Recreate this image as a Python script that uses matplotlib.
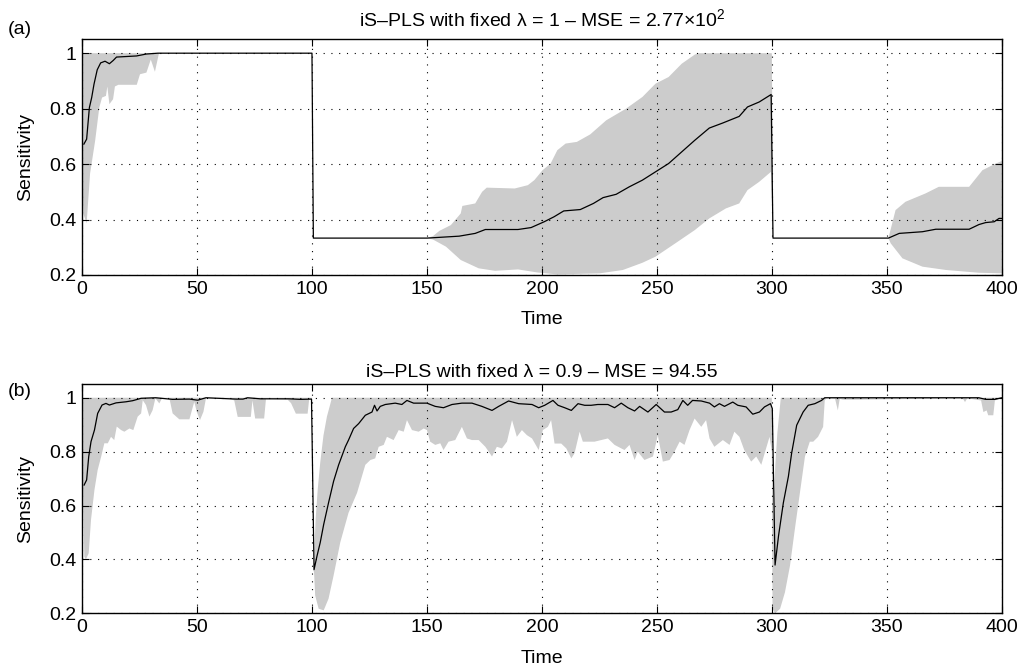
import numpy as np
import matplotlib
matplotlib.use("Agg")
import matplotlib.pyplot as plt

plt.rcParams['font.family'] = ['Liberation Sans', 'DejaVu Sans']
plt.rcParams['mathtext.fontset'] = 'custom'
plt.rcParams['mathtext.rm'] = 'Liberation Sans'

# ---- panel (a): fixed lambda = 1 ----
ta_line = [0.8, 2, 3.2, 4.2, 5.2, 6.6, 8.1, 10, 11.9, 13.6, 15, 23.7, 28, 33, 100,
           100.6, 150, 154, 164, 171, 175.4, 189.6, 195.3, 201, 205.3, 209.5, 216.7,
           222.4, 226.6, 232.3, 238, 243.7, 249.4, 255.1, 260.8, 266.5, 272.8, 278.6,
           285.8, 289.4, 294.5, 299.7, 300.5, 350.7, 355.4, 365.5, 371.3, 385.8, 390.1,
           393, 396.7, 398.8, 400]
sa_line = [0.672, 0.69, 0.804, 0.84, 0.888, 0.94, 0.965, 0.971, 0.962, 0.974, 0.986, 0.99,
           0.997, 1.0, 1.0, 0.333, 0.333, 0.335, 0.34, 0.35, 0.364, 0.364, 0.371, 0.392,
           0.41, 0.431, 0.436, 0.458, 0.479, 0.491, 0.518, 0.542, 0.572, 0.602, 0.644,
           0.686, 0.73, 0.748, 0.772, 0.806, 0.824, 0.851, 0.333, 0.333, 0.35, 0.356,
           0.365, 0.365, 0.382, 0.389, 0.392, 0.404, 0.404]

ta_up = [0, 100, 100.6, 150, 152.6, 155.4, 160.4, 164.7, 165.4, 171, 174, 176, 188.2,
         193.9, 196.7, 200.3, 203.8, 206.7, 210.3, 215.2, 221, 228, 236.6, 243.7, 249.4,
         255.1, 260.8, 266.5, 268, 300, 300.6, 350.7, 353.8, 358.1, 366.8, 372.6, 385.8,
         391.6, 397.4, 400]
sa_up = [1.0, 1.0, 0.333, 0.333, 0.34, 0.359, 0.38, 0.422, 0.449, 0.458, 0.5, 0.515, 0.512,
         0.524, 0.542, 0.578, 0.602, 0.65, 0.674, 0.68, 0.707, 0.758, 0.8, 0.842, 0.89,
         0.914, 0.962, 0.995, 1.0, 1.0, 0.333, 0.333, 0.434, 0.464, 0.494, 0.518, 0.518,
         0.578, 0.602, 0.611]

ta_lo = [0, 0.6, 2, 3.5, 5.7, 7.5, 8.7, 10.4, 11, 11.9, 13.5, 14.3, 15.8, 23.8, 25.2, 28,
         29.9, 31.7, 33.2, 33.5, 100, 100.6, 150, 152.6, 158.3, 164.7, 172.5, 179.6,
         189.6, 198.1, 206.7, 225.2, 235.2, 243.7, 249.4, 258, 266.5, 272.8, 280, 285.8,
         289.4, 294.5, 299.6, 300.6, 350.7, 351.7, 356.8, 365.5, 375.7, 390.1, 400]
sa_lo = [0.62, 0.42, 0.386, 0.566, 0.684, 0.804, 0.84, 0.846, 0.88, 0.816, 0.834, 0.88,
         0.886, 0.886, 0.924, 0.93, 0.977, 0.933, 0.99, 1.0, 1.0, 0.333, 0.333, 0.328,
         0.302, 0.254, 0.224, 0.215, 0.22, 0.209, 0.202, 0.206, 0.218, 0.244, 0.266,
         0.314, 0.362, 0.404, 0.44, 0.458, 0.506, 0.536, 0.572, 0.333, 0.333, 0.314,
         0.26, 0.23, 0.218, 0.208, 0.206]

# ---- panel (b): fixed lambda = 0.9 ----
tb_line = [0.9, 2, 2.9, 3.9, 5.4, 6.8, 8.7, 10.4, 11.9, 14.8, 19.1, 22, 25.7, 32, 39.4,
           46.7, 50.3, 53.9, 67, 70, 72, 77.6, 90, 95, 99.8, 100.9, 102.2, 103.6, 105.1,
           107.2, 109.4, 111.6, 114.5, 115.9, 118.1, 120.3, 123.2, 126.1, 127.2, 128.3,
           129.7, 131.9, 136.2, 139.1, 141.3, 144.2, 150, 153.6, 157.2, 160.9, 165.2,
           169.6, 173.9, 178.3, 181.2, 185.5, 189.9, 195.7, 198.6, 201.2, 204.8, 207,
           209.9, 212.8, 215.7, 218.6, 221.4, 224.3, 228.7, 231.6, 234.5, 237.4, 240.3,
           242.5, 246.1, 249.7, 253.3, 256.2, 259.1, 261.3, 263.4, 265.5, 269.3, 272.9,
           275, 277.2, 279.4, 283, 285.2, 288.8, 291.7, 294.6, 296.8, 299.4, 300.2,
           301.4, 302.9, 305, 307.2, 308.6, 310.8, 313.6, 315.8, 318.7, 321.6, 323, 390,
           393, 397, 400]
sb_line = [0.676, 0.695, 0.781, 0.837, 0.88, 0.942, 0.973, 0.979, 0.973, 0.981, 0.985,
           0.989, 0.998, 1.0, 0.994, 0.995, 0.991, 1.0, 0.995, 0.995, 1.0, 0.996, 0.996,
           0.994, 0.995, 0.362, 0.413, 0.463, 0.53, 0.61, 0.69, 0.751, 0.818, 0.843,
           0.886, 0.904, 0.935, 0.947, 0.972, 0.951, 0.968, 0.975, 0.98, 0.975, 0.99,
           0.98, 0.98, 0.968, 0.963, 0.975, 0.98, 0.98, 0.968, 0.953, 0.968, 0.988, 0.978,
           0.975, 0.963, 0.972, 0.99, 0.972, 0.963, 0.953, 0.978, 0.972, 0.972, 0.975,
           0.975, 0.963, 0.98, 0.963, 0.951, 0.968, 0.947, 0.975, 0.947, 0.947, 0.956,
           0.99, 0.972, 0.99, 0.988, 0.98, 0.966, 0.978, 0.968, 0.984, 0.972, 0.966,
           0.939, 0.947, 0.966, 0.978, 0.96, 0.379, 0.487, 0.61, 0.708, 0.794, 0.898,
           0.947, 0.972, 0.978, 0.99, 1.0, 1.0, 0.994, 0.994, 1.0]

tb_up = [0, 100, 100.6, 100.9, 101.6, 102.5, 103.6, 105, 106.5, 108.7, 300, 300.6, 301.5,
         302.4, 303.9, 400]
sb_up = [1.0, 1.0, 0.36, 0.40, 0.55, 0.66, 0.76, 0.86, 0.93, 1.0, 1.0, 0.55, 0.75, 0.87,
         1.0, 1.0]

tb_lo = [0, 0.3, 1, 1.7, 2.9, 3.9, 5.4, 6.8, 8.3, 9.7, 11.2, 12.6, 14, 15.1, 17, 18.4,
         20.6, 22.3, 24.2, 25.7, 26.4, 27.8, 29.3, 30.7, 31.9, 33.6, 34.8, 38, 39.4, 42.3,
         46.7, 48.8, 49.9, 51.3, 52.8, 53.9, 64, 66.2, 67.7, 73.4, 74.1, 75.3, 79.2, 80,
         89.4, 90.9, 93, 98.1, 98.8, 100, 100.6, 100.9, 101.4, 102.9, 105.1, 107.2, 109.4,
         112.3, 115.9, 119.6, 123.2, 125.4, 127.5, 129, 131.2, 132.6, 135.5, 137.7, 139.9,
         141.3, 143.5, 146.4, 148.6, 150, 151.4, 153.6, 155.8, 157.2, 159.4, 162.3, 165.2,
         167.4, 169.6, 172.5, 175.4, 178.3, 180.4, 182.6, 184.8, 187, 189.1, 191.3, 193.5,
         195.7, 198.6, 200.4, 202.6, 204, 205.5, 208.4, 210.6, 212.8, 214.2, 216.4, 217.8,
         222.9, 228.7, 231.6, 235.9, 238.1, 240.3, 241.7, 244.6, 248.3, 250.4, 252.6,
         255.5, 257.7, 259.9, 262, 264.2, 266.4, 269.3, 271.4, 272.9, 275, 278.7, 281.6,
         283.7, 285.9, 288, 291, 293.2, 295.4, 297.5, 299, 300, 300.3, 301.4, 303.6, 305.7,
         307.9, 310, 312.2, 314.4, 316.5, 318, 320.1, 322.3, 323, 324, 327.5, 328.7, 329.5,
         331, 337, 383, 384, 385, 391, 392, 393.4, 394.1, 396.3, 397, 400]
sb_lo = [0.75, 0.726, 0.41, 0.4, 0.423, 0.547, 0.658, 0.732, 0.781, 0.831, 0.831, 0.855,
         0.843, 0.893, 0.88, 0.874, 0.886, 0.88, 0.93, 0.942, 0.991, 0.973, 0.93, 0.954,
         0.998, 0.979, 0.998, 0.998, 0.942, 0.92, 0.92, 0.985, 0.948, 0.917, 0.948, 0.998,
         0.997, 0.99, 0.929, 0.929, 0.99, 0.923, 0.923, 0.996, 0.993, 0.98, 0.941, 0.941,
         0.996, 0.995, 0.36, 0.352, 0.266, 0.217, 0.211, 0.254, 0.34, 0.463, 0.573, 0.647,
         0.751, 0.769, 0.775, 0.818, 0.825, 0.855, 0.843, 0.88, 0.874, 0.917, 0.88, 0.874,
         0.886, 0.88, 0.837, 0.825, 0.831, 0.806, 0.837, 0.843, 0.892, 0.849, 0.843,
         0.843, 0.818, 0.782, 0.818, 0.812, 0.837, 0.917, 0.855, 0.88, 0.861, 0.849,
         0.806, 0.88, 0.892, 0.917, 0.83, 0.83, 0.812, 0.775, 0.794, 0.874, 0.837, 0.837,
         0.849, 0.825, 0.806, 0.825, 0.769, 0.8, 0.769, 0.782, 0.861, 0.763, 0.769, 0.8,
         0.837, 0.825, 0.88, 0.923, 0.892, 0.917, 0.849, 0.818, 0.843, 0.825, 0.874,
         0.855, 0.806, 0.763, 0.782, 0.751, 0.812, 0.855, 0.8, 0.217, 0.2, 0.217, 0.278,
         0.377, 0.512, 0.647, 0.782, 0.837, 0.837, 0.855, 0.892, 0.99, 1.0, 0.996, 0.953,
         0.996, 0.993, 0.993, 0.998, 0.984, 0.998, 0.99, 0.947, 0.953, 0.935, 0.935, 0.99,
         1.0]

titles = [r'iS–PLS with fixed λ = 1 – MSE = 2.77×10$^{\mathrm{2}}$',
          'iS–PLS with fixed λ = 0.9 – MSE = 94.55']
panel_tags = ['(a)', '(b)']
xticks = [0, 50, 100, 150, 200, 250, 300, 350, 400]
yticks = [0.2, 0.4, 0.6, 0.8, 1.0]
ytick_labels = ['0.2', '0.4', '0.6', '0.8', '1']

panels = [(ta_line, sa_line, ta_up, sa_up, ta_lo, sa_lo),
          (tb_line, sb_line, tb_up, sb_up, tb_lo, sb_lo)]

fig = plt.figure(figsize=(10.28, 6.71), dpi=100)
ax_pos = [[0.0798, 0.5902, 0.8947, 0.3512], [0.0798, 0.0860, 0.8947, 0.3413]]
title_pads = [9.0, 5.0]
tag_y = [1 - 29 / 671, 1 - 392 / 671]
fs = 14

for i, (tl, sl, tu, su, tlo, slo) in enumerate(panels):
    ax = fig.add_axes(ax_pos[i])
    poly_x = np.concatenate([tu, tlo[::-1]])
    poly_y = np.concatenate([su, slo[::-1]])
    ax.fill(poly_x, poly_y, color='#cccccc', lw=0, zorder=1)
    ax.plot(tl, sl, color='black', lw=0.9, zorder=3)

    ax.set_xlim(0, 400)
    ax.set_ylim(0.2, 1.05)
    ax.set_xticks(xticks)
    ax.set_yticks(yticks)
    ax.set_yticklabels(ytick_labels)
    ax.grid(True, color='black', linestyle=(0, (1, 6)), lw=0.8)
    ax.tick_params(direction='in', length=5, width=0.8, top=True, right=True,
                   labelsize=fs, pad=4)
    for sp in ax.spines.values():
        sp.set_linewidth(1.0)
    ax.set_xlabel('Time', fontsize=fs, labelpad=10)
    ax.set_ylabel('Sensitivity', fontsize=fs, labelpad=11)
    ax.set_title(titles[i], fontsize=fs, pad=title_pads[i])
    fig.text(8 / 1028, tag_y[i], panel_tags[i], fontsize=fs, va='center', ha='left')

fig.savefig('out.png', dpi=100)
